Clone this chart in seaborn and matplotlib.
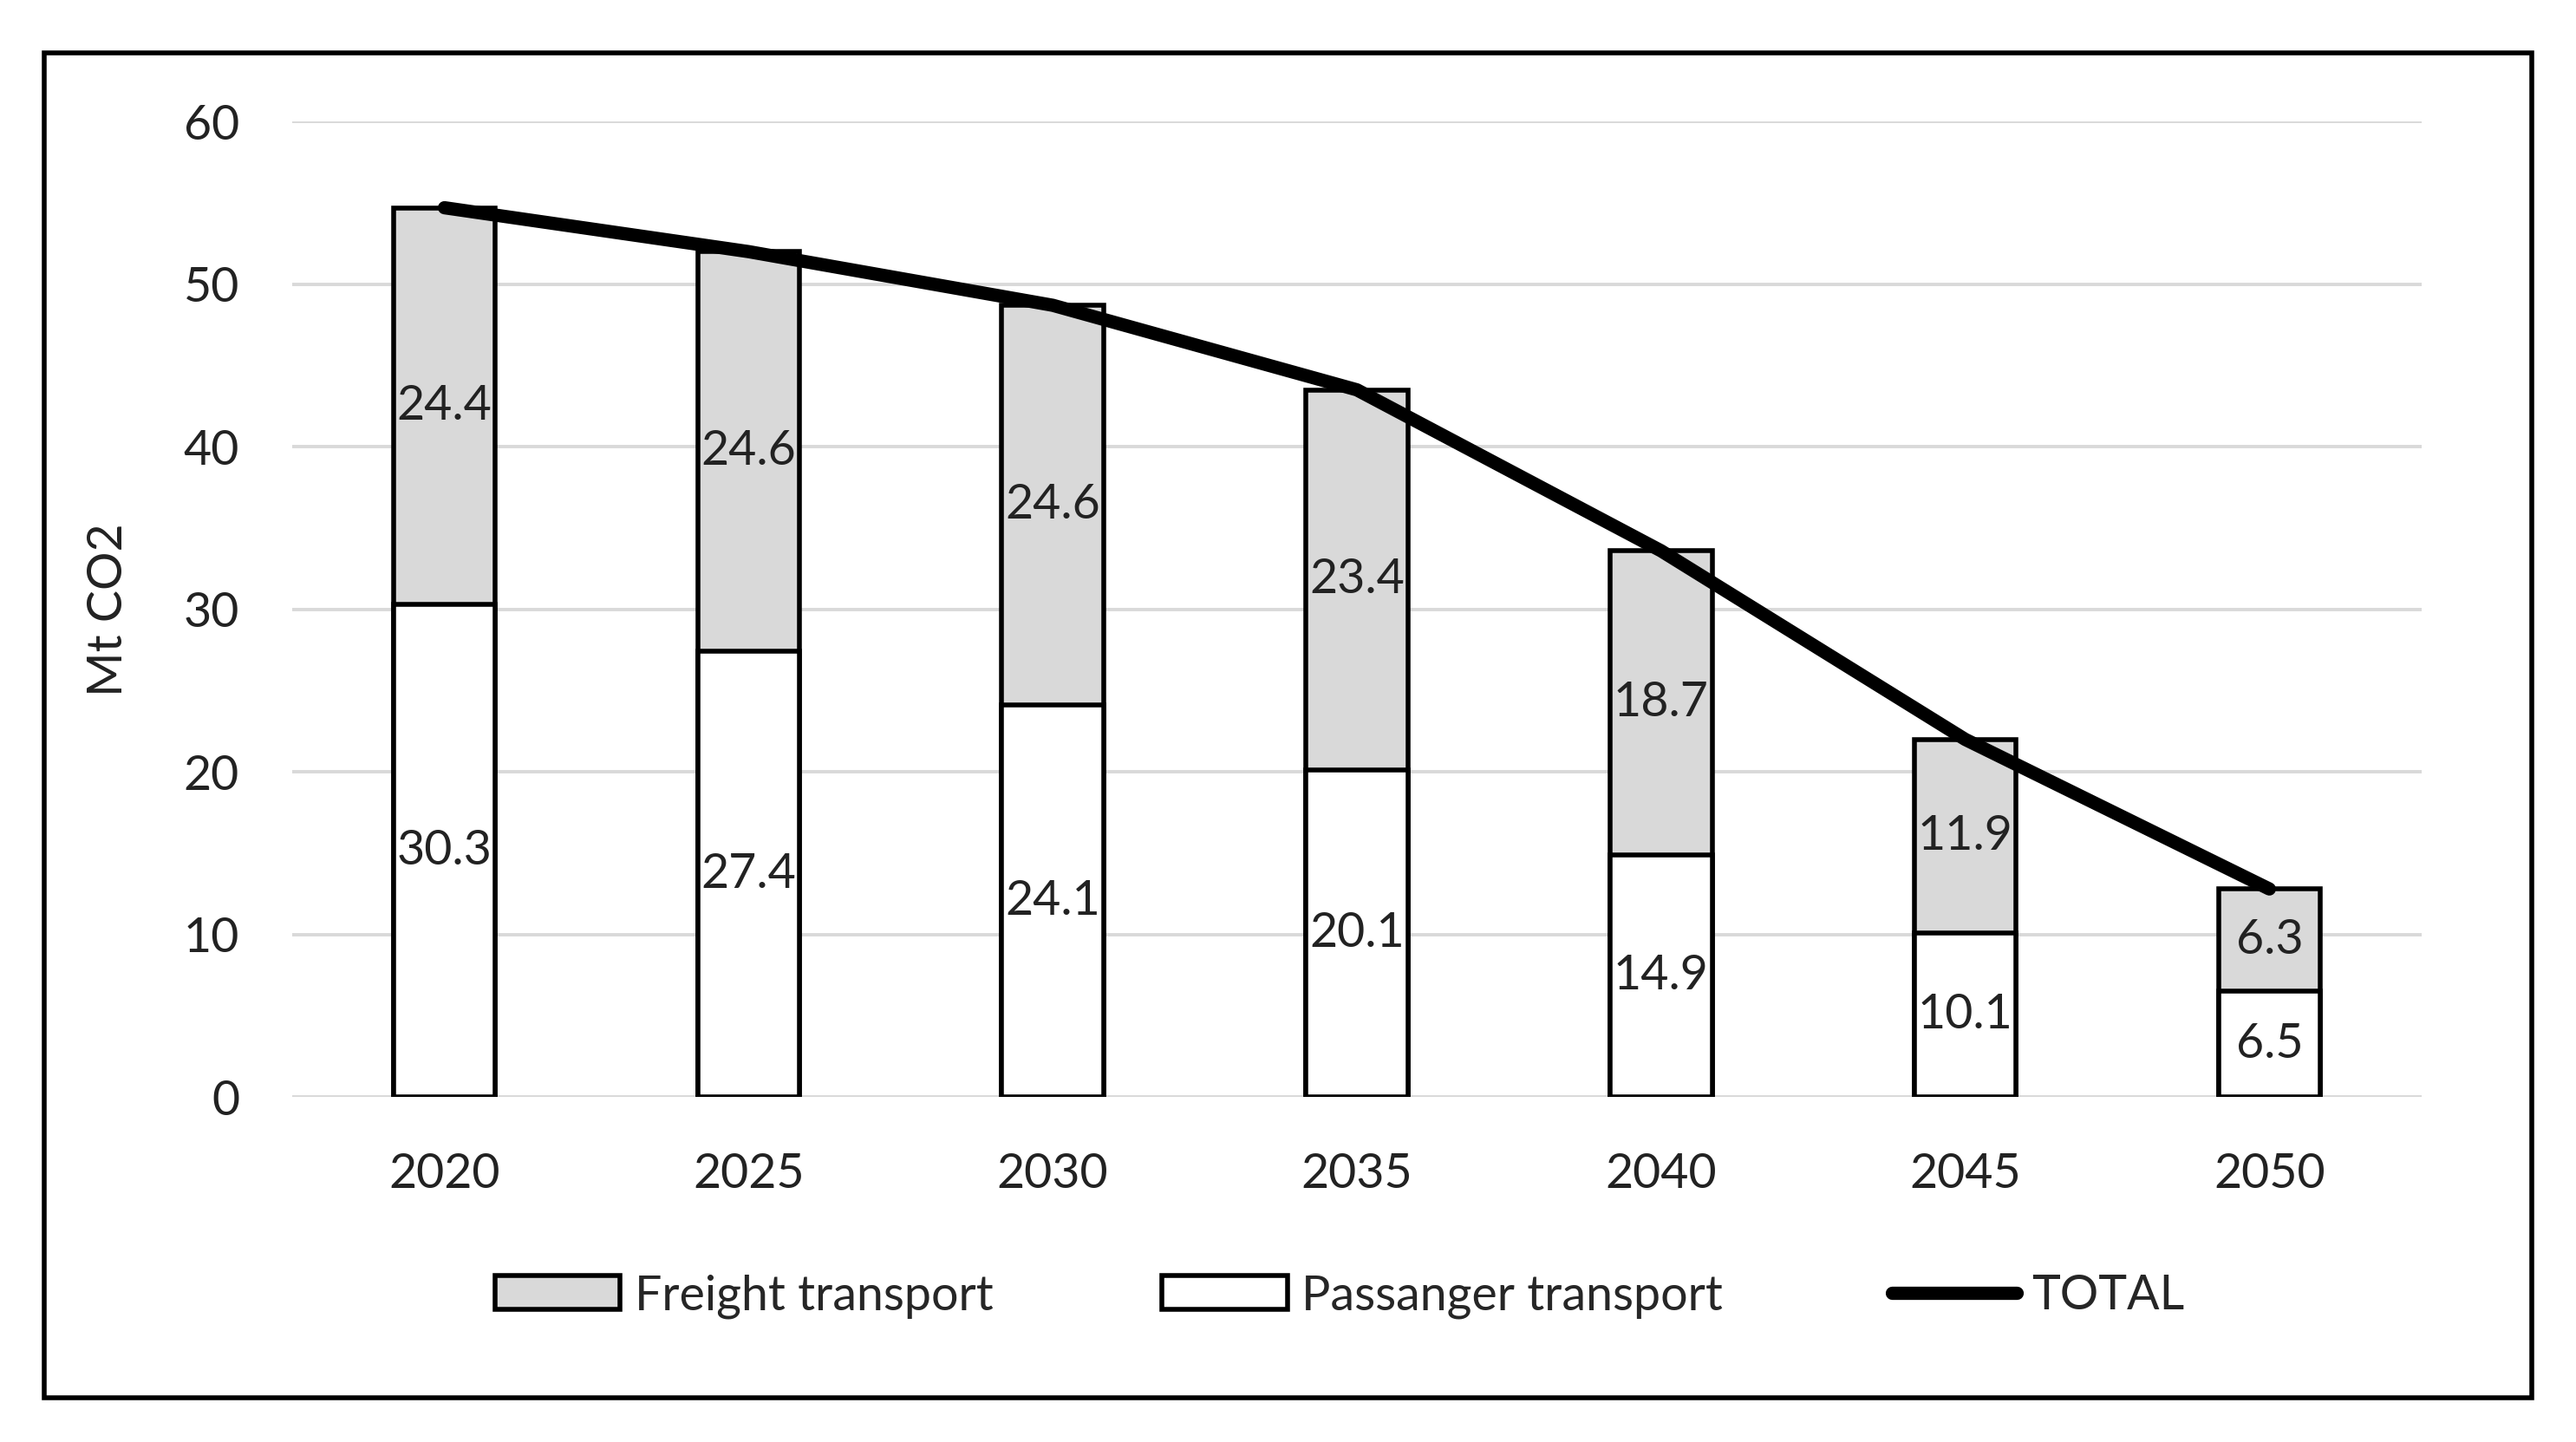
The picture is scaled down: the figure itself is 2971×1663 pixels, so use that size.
import pandas as pd
import matplotlib.pyplot as plt
import seaborn as sns
from matplotlib.patches import Patch, Rectangle
from matplotlib.lines import Line2D

years = ['2020', '2025', '2030', '2035', '2040', '2045', '2050']
passenger = [30.3, 27.4, 24.1, 20.1, 14.9, 10.1, 6.5]
freight = [24.4, 24.6, 24.6, 23.4, 18.7, 11.9, 6.3]

df = pd.DataFrame({'year': years, 'passenger': passenger, 'freight': freight})
df['total'] = df['passenger'] + df['freight']

sns.set_theme(style='white')
plt.rcParams['font.family'] = ['Lato', 'DejaVu Sans']

fs = 20
fig = plt.figure(figsize=(14.855, 8.315), dpi=200)
ax = fig.add_axes([0.1135, 0.2392, 0.8265, 0.6765])

# frame around whole chart
fig.patches.append(Rectangle((0.0172, 0.0308), 0.9658, 0.9328, transform=fig.transFigure,
                             fill=False, edgecolor='black', linewidth=2, zorder=0))

# stacked bars: full height in grey, then passenger part in white on top
sns.barplot(data=df, x='year', y='total', color='#d9d9d9', edgecolor='black',
            linewidth=2, width=0.335, saturation=1, ax=ax, zorder=2)
sns.barplot(data=df, x='year', y='passenger', color='white', edgecolor='black',
            linewidth=2, width=0.335, saturation=1, ax=ax, zorder=3)
sns.lineplot(data=df, x='year', y='total', color='black', linewidth=5.5,
             solid_capstyle='round', ax=ax, zorder=4)

for i, row in df.iterrows():
    ax.text(i, row['passenger'] / 2, f"{row['passenger']:.1f}", ha='center', va='center',
            fontsize=fs, color='#222222', zorder=5)
    ax.text(i, row['passenger'] + row['freight'] / 2, f"{row['freight']:.1f}", ha='center',
            va='center', fontsize=fs, color='#222222', zorder=5)

ax.set_ylim(0, 60)
ax.set_xlim(-0.5, 6.5)
ax.set_yticks(range(0, 61, 10))
ax.yaxis.grid(True, color='#d9d9d9', linewidth=1.4)
ax.set_axisbelow(True)
for s in ax.spines.values():
    s.set_visible(False)
ax.tick_params(axis='y', length=0, pad=22, labelsize=fs, labelcolor='#222222')
ax.tick_params(axis='x', length=0, pad=23, labelsize=fs, labelcolor='#222222')
ax.set_xlabel('')
ax.set_ylabel('Mt CO2', fontsize=fs, color='#222222', labelpad=22)

handles = [Patch(facecolor='#d9d9d9', edgecolor='black', linewidth=2),
           Patch(facecolor='white', edgecolor='black', linewidth=2),
           Line2D([0], [0], color='black', linewidth=5.5, solid_capstyle='round')]
labels = ['Freight transport', 'Passanger transport', 'TOTAL']
fig.legend(handles, labels, loc='center', bbox_to_anchor=(0.52, 0.101), ncol=3,
           frameon=False, fontsize=fs, handlelength=2.6, handleheight=0.7,
           handletextpad=0.3, columnspacing=3.5)

fig.savefig('out.png', dpi=200)
